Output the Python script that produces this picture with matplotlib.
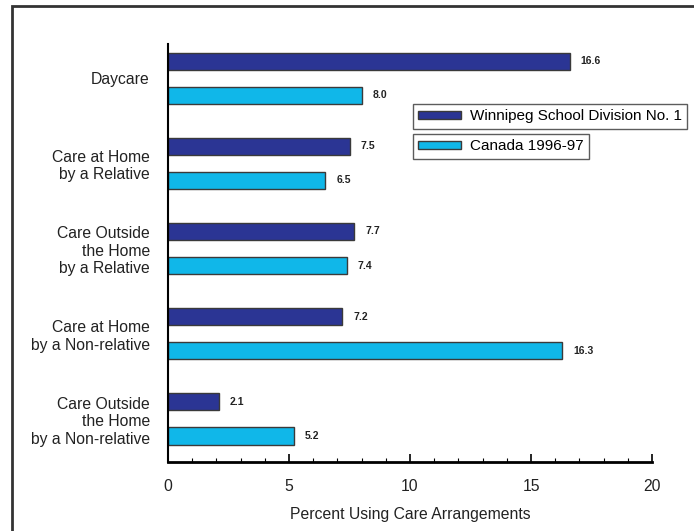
import matplotlib.pyplot as plt
from matplotlib.patches import Patch, Rectangle

plt.rcParams['font.family'] = ['Liberation Sans', 'DejaVu Sans']

# care arrangement categories and percentages
categories = ['Daycare',
              'Care at Home\nby a Relative',
              'Care Outside\nthe Home\nby a Relative',
              'Care at Home\nby a Non-relative',
              'Care Outside\nthe Home\nby a Non-relative']
winnipeg = [16.6, 7.5, 7.7, 7.2, 2.1]
canada = [8.0, 6.5, 7.4, 16.3, 5.2]
series_names = ['Winnipeg School Division No. 1', 'Canada 1996-97']

DARK = '#2b3594'
LIGHT = '#10b7e9'
EDGE = '#3a3a3a'

fig = plt.figure(figsize=(6.94, 5.31), dpi=100)
# outer frame (top and left edges only visible)
fig.add_artist(Rectangle((12 / 694, -0.05), 1.1, (531 - 6) / 531 + 0.05,
                         transform=fig.transFigure, fill=False,
                         edgecolor='#333333', linewidth=2))

ax = fig.add_axes([168 / 694, (531 - 462) / 531, (652 - 168) / 694, (462 - 44) / 531])

pos = list(range(len(categories)))
h = 0.2
ax.barh([p - 0.2 for p in pos], winnipeg, height=h, color=DARK,
        edgecolor=EDGE, linewidth=1)
ax.barh([p + 0.2 for p in pos], canada, height=h, color=LIGHT,
        edgecolor=EDGE, linewidth=1)

for p, v in zip(pos, winnipeg):
    ax.text(v + 0.45, p - 0.2, f'{v:.1f}', va='center', ha='left',
            fontsize=7.5, fontweight='bold', color='#222222')
for p, v in zip(pos, canada):
    ax.text(v + 0.45, p + 0.2, f'{v:.1f}', va='center', ha='left',
            fontsize=7.5, fontweight='bold', color='#222222')

ax.set_xlim(0, 20)
ax.set_ylim(4.505, -0.4)

ax.set_yticks(pos)
ax.set_yticklabels(categories, fontsize=11.3, ha='right', multialignment='right',
                   linespacing=1.22, color='#222222')
ax.tick_params(axis='y', length=0, pad=13)

ax.set_xticks([0, 5, 10, 15, 20])
ax.set_xticks(range(21), minor=True)
ax.tick_params(axis='x', which='major', direction='in', length=6, width=1.2,
               labelsize=11.3, pad=12, labelcolor='#222222')
ax.tick_params(axis='x', which='minor', direction='in', length=3, width=0.8)
ax.set_xlabel('Percent Using Care Arrangements', fontsize=11.3, labelpad=9.5,
              color='#222222')

for s in ['top', 'right']:
    ax.spines[s].set_visible(False)
ax.spines['left'].set_linewidth(1.5)
ax.spines['bottom'].set_linewidth(2)

# two separate legend boxes
leg_kw = dict(loc='upper left', fontsize=11, frameon=True, fancybox=False,
              edgecolor='#333333', handlelength=2.8, handleheight=0.45,
              borderpad=0.35, handletextpad=0.55, borderaxespad=0)
leg1 = fig.legend(handles=[Patch(facecolor=DARK, edgecolor=EDGE)], labels=[series_names[0]],
                  bbox_to_anchor=(413 / 694, 1 - 104 / 531), **leg_kw)
leg1.get_frame().set_linewidth(1)
leg2 = fig.legend(handles=[Patch(facecolor=LIGHT, edgecolor=EDGE)], labels=[series_names[1]],
                  bbox_to_anchor=(413 / 694, 1 - 134 / 531), **leg_kw)
leg2.get_frame().set_linewidth(1)

fig.savefig('out.png', dpi=100)
